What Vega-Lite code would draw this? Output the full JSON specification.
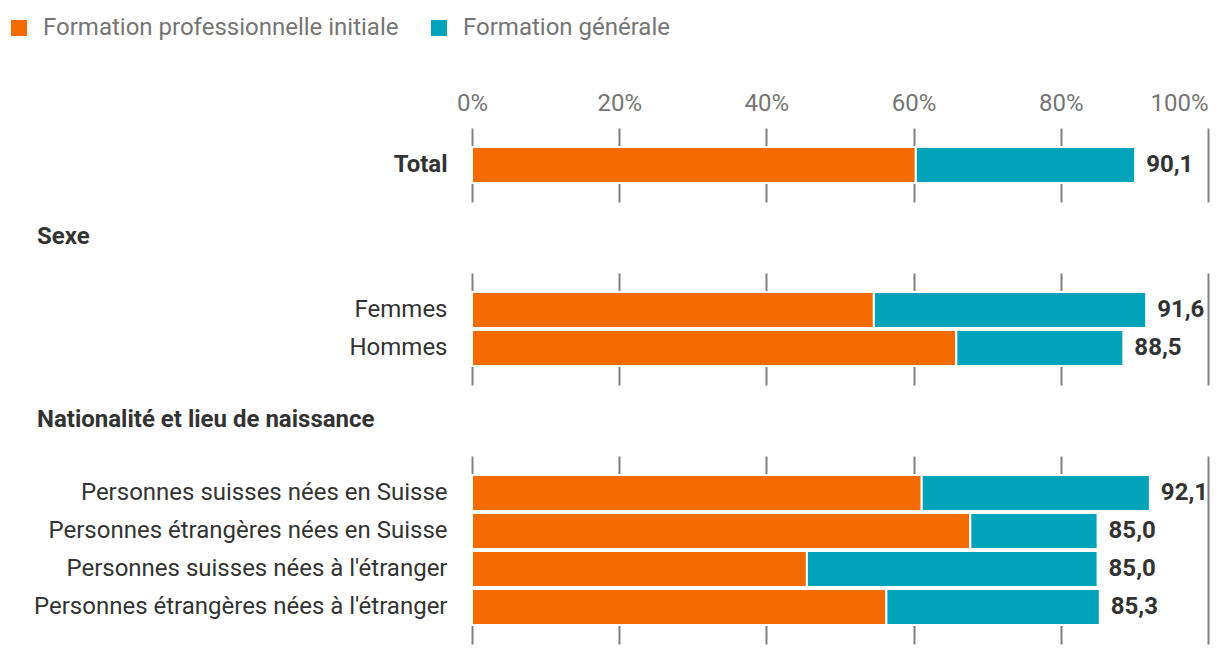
{
  "$schema": "https://vega.github.io/schema/vega-lite/v6.json",
  "padding": {"left": 7, "top": 16, "right": 5, "bottom": 5},
  "bounds": "flush",
  "spacing": 70,
  "config": {
    "font": "Roboto",
    "view": {"stroke": null},
    "axis": {"gridColor": "#808080", "gridWidth": 2, "gridOpacity": 1}
  },
  "data": {
    "values": [
      {"g": "Total", "cat": "Total", "type": "Formation professionnelle initiale", "ord": 1, "value": 60.3, "total": 90.1, "label": "90,1"},
      {"g": "Total", "cat": "Total", "type": "Formation générale", "ord": 2, "value": 29.8, "total": 90.1, "label": "90,1"},
      {"g": "Sexe", "cat": "Femmes", "type": "Formation professionnelle initiale", "ord": 1, "value": 54.6, "total": 91.6, "label": "91,6"},
      {"g": "Sexe", "cat": "Femmes", "type": "Formation générale", "ord": 2, "value": 37.0, "total": 91.6, "label": "91,6"},
      {"g": "Sexe", "cat": "Hommes", "type": "Formation professionnelle initiale", "ord": 1, "value": 65.8, "total": 88.5, "label": "88,5"},
      {"g": "Sexe", "cat": "Hommes", "type": "Formation générale", "ord": 2, "value": 22.7, "total": 88.5, "label": "88,5"},
      {"g": "Nat", "cat": "Personnes suisses nées en Suisse", "type": "Formation professionnelle initiale", "ord": 1, "value": 61.1, "total": 92.1, "label": "92,1"},
      {"g": "Nat", "cat": "Personnes suisses nées en Suisse", "type": "Formation générale", "ord": 2, "value": 31.0, "total": 92.1, "label": "92,1"},
      {"g": "Nat", "cat": "Personnes étrangères nées en Suisse", "type": "Formation professionnelle initiale", "ord": 1, "value": 67.7, "total": 85.0, "label": "85,0"},
      {"g": "Nat", "cat": "Personnes étrangères nées en Suisse", "type": "Formation générale", "ord": 2, "value": 17.3, "total": 85.0, "label": "85,0"},
      {"g": "Nat", "cat": "Personnes suisses nées à l'étranger", "type": "Formation professionnelle initiale", "ord": 1, "value": 45.5, "total": 85.0, "label": "85,0"},
      {"g": "Nat", "cat": "Personnes suisses nées à l'étranger", "type": "Formation générale", "ord": 2, "value": 39.5, "total": 85.0, "label": "85,0"},
      {"g": "Nat", "cat": "Personnes étrangères nées à l'étranger", "type": "Formation professionnelle initiale", "ord": 1, "value": 56.3, "total": 85.3, "label": "85,3"},
      {"g": "Nat", "cat": "Personnes étrangères nées à l'étranger", "type": "Formation générale", "ord": 2, "value": 29.0, "total": 85.3, "label": "85,3"}
    ]
  },
  "resolve": {
    "scale": {"y": "independent", "x": "shared", "color": "shared"},
    "axis": {"x": "independent", "y": "independent"},
    "legend": {"color": "shared"}
  },
  "vconcat": [
    {
      "width": 736,
      "height": {"step": 38},
      "transform": [{"filter": "datum.g == 'Total'"}],
      "encoding": {
        "y": {
          "field": "cat", "type": "nominal", "sort": null,
          "scale": {"paddingInner": 0.0526, "paddingOuter": 0.5},
          "axis": {"title": null, "ticks": false, "domain": false, "labelPadding": 25, "labelFontSize": 24, "labelColor": "#333333", "labelFontWeight": "bold", "labelLimit": 0}
        }
      },
      "layer": [
        {
          "mark": {"type": "bar", "stroke": "white", "strokeWidth": 2},
          "encoding": {
            "x": {
              "field": "value", "type": "quantitative", "stack": "zero",
              "scale": {"domain": [0, 100], "nice": false},
              "axis": {"orient": "top", "title": null, "values": [0, 20, 40, 60, 80, 100], "labelExpr": "datum.value + '%'", "ticks": false, "domain": false, "grid": true, "labelFontSize": 24, "labelColor": "#757575", "labelPadding": 13, "labelFlush": false,
                "labelAlign": {"condition": {"test": "datum.value == 100", "value": "right"}, "value": "center"}}
            },
            "color": {
              "field": "type", "type": "nominal",
              "scale": {"domain": ["Formation professionnelle initiale", "Formation générale"], "range": ["#f36b00", "#00a3b9"]},
              "legend": {"orient": "none", "legendX": -465, "legendY": -112, "direction": "horizontal", "title": null, "symbolType": "square", "symbolSize": 256, "symbolStrokeWidth": 0, "labelFontSize": 24, "labelColor": "#757575", "labelLimit": 0, "labelOffset": 12, "columnPadding": 28, "padding": 0}
            },
            "order": {"field": "ord", "type": "quantitative"}
          }
        },
        {
          "transform": [{"filter": "datum.ord == 2"}],
          "mark": {"type": "text", "align": "left", "baseline": "middle", "dx": 11, "fontSize": 24, "fontWeight": "bold", "color": "#333333"},
          "encoding": {
            "x": {"field": "total", "type": "quantitative"},
            "text": {"field": "label", "type": "nominal"}
          }
        }
      ]
    },
    {
      "width": 736,
      "height": {"step": 38},
      "title": {"text": "Sexe", "anchor": "start", "frame": "group", "dx": -435, "fontSize": 24, "fontWeight": "bold", "color": "#333333", "offset": 5, "baseline": "alphabetic"},
      "transform": [{"filter": "datum.g == 'Sexe'"}],
      "encoding": {
        "y": {
          "field": "cat", "type": "nominal", "sort": null,
          "scale": {"paddingInner": 0.0526, "paddingOuter": 0.5},
          "axis": {"title": null, "ticks": false, "domain": false, "labelPadding": 25, "labelFontSize": 24, "labelColor": "#333333", "labelLimit": 0}
        }
      },
      "layer": [
        {
          "mark": {"type": "bar", "stroke": "white", "strokeWidth": 2},
          "encoding": {
            "x": {
              "field": "value", "type": "quantitative", "stack": "zero",
              "scale": {"domain": [0, 100], "nice": false},
              "axis": {"title": null, "values": [0, 20, 40, 60, 80, 100], "labels": false, "ticks": false, "domain": false, "grid": true}
            },
            "color": {"field": "type", "type": "nominal"},
            "order": {"field": "ord", "type": "quantitative"}
          }
        },
        {
          "transform": [{"filter": "datum.ord == 2"}],
          "mark": {"type": "text", "align": "left", "baseline": "middle", "dx": 11, "fontSize": 24, "fontWeight": "bold", "color": "#333333"},
          "encoding": {
            "x": {"field": "total", "type": "quantitative"},
            "text": {"field": "label", "type": "nominal"}
          }
        }
      ]
    },
    {
      "width": 736,
      "height": {"step": 38},
      "title": {"text": "Nationalité et lieu de naissance", "anchor": "start", "frame": "group", "dx": -435, "fontSize": 24, "fontWeight": "bold", "color": "#333333", "offset": 5, "baseline": "alphabetic"},
      "transform": [{"filter": "datum.g == 'Nat'"}],
      "encoding": {
        "y": {
          "field": "cat", "type": "nominal", "sort": null,
          "scale": {"paddingInner": 0.0526, "paddingOuter": 0.5},
          "axis": {"title": null, "ticks": false, "domain": false, "labelPadding": 25, "labelFontSize": 24, "labelColor": "#333333", "labelLimit": 0}
        }
      },
      "layer": [
        {
          "mark": {"type": "bar", "stroke": "white", "strokeWidth": 2},
          "encoding": {
            "x": {
              "field": "value", "type": "quantitative", "stack": "zero",
              "scale": {"domain": [0, 100], "nice": false},
              "axis": {"title": null, "values": [0, 20, 40, 60, 80, 100], "labels": false, "ticks": false, "domain": false, "grid": true}
            },
            "color": {"field": "type", "type": "nominal"},
            "order": {"field": "ord", "type": "quantitative"}
          }
        },
        {
          "transform": [{"filter": "datum.ord == 2"}],
          "mark": {"type": "text", "align": "left", "baseline": "middle", "dx": 11, "fontSize": 24, "fontWeight": "bold", "color": "#333333"},
          "encoding": {
            "x": {"field": "total", "type": "quantitative"},
            "text": {"field": "label", "type": "nominal"}
          }
        }
      ]
    }
  ]
}
